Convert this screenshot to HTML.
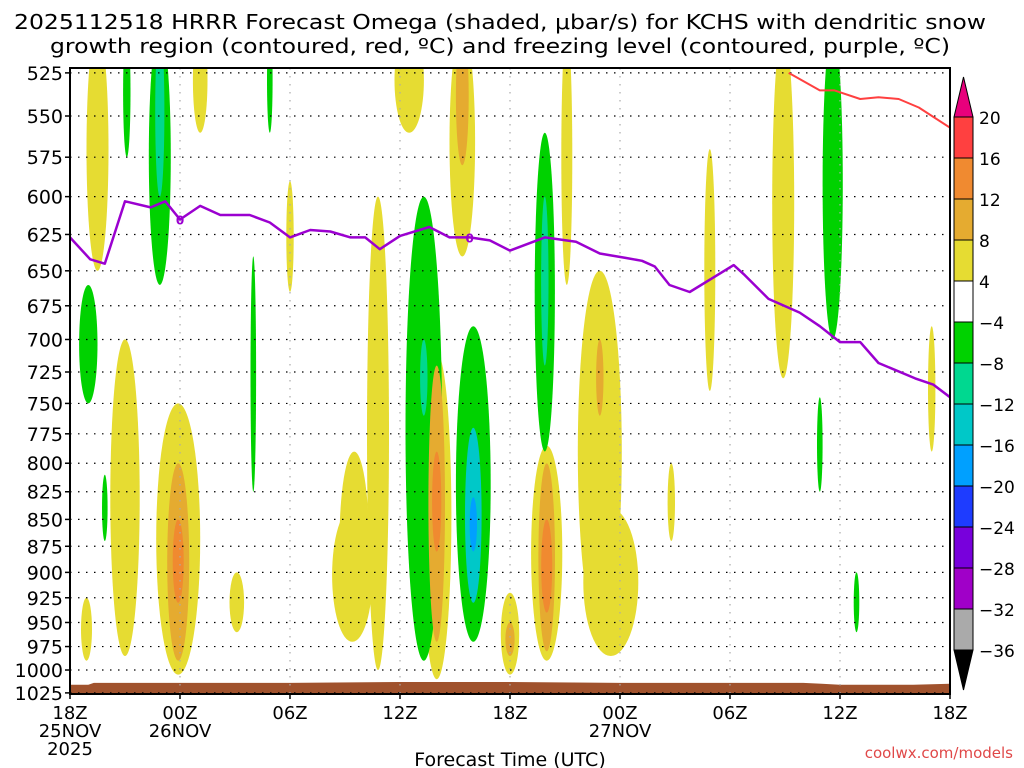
<!DOCTYPE html>
<html><head><meta charset="utf-8"><style>
html,body{margin:0;padding:0;background:#fff;}
svg{display:block;font-family:"DejaVu Sans","Liberation Sans",sans-serif;}
</style></head><body>
<svg id="chart" width="1024" height="768" viewBox="0 0 1024 768">
<defs><clipPath id="plotclip"><rect x="70" y="68" width="880" height="626"/></clipPath></defs>
<g>
<text x="500" y="29" text-anchor="middle" font-size="20" textLength="972" lengthAdjust="spacingAndGlyphs">2025112518 HRRR Forecast Omega (shaded, μbar/s) for KCHS with dendritic snow</text>
<text x="500" y="53" text-anchor="middle" font-size="20" textLength="900" lengthAdjust="spacingAndGlyphs">growth region (contoured, red, ºC) and freezing level (contoured, purple, ºC)</text>
</g>
<g id="blobs" clip-path="url(#plotclip)"></g>
<g id="grid"></g>
<g id="lines" clip-path="url(#plotclip)"></g>
<g id="axes"></g>
<g id="cbar"></g>
<text x="510" y="766" text-anchor="middle" font-size="19">Forecast Time (UTC)</text>
<text x="1013" y="758" text-anchor="end" font-size="15" fill="#e04848">coolwx.com/models</text>
</svg>
<script>
// ---- data ----
const pressureTicks=[525,550,575,600,625,650,675,700,725,750,775,800,825,850,875,900,925,950,975,1000,1025];
const timeTicks=[0,6,12,18,24,30,36,42,48];
const timeLabels1=["18Z","00Z","06Z","12Z","18Z","00Z","06Z","12Z","18Z"];
const timeLabels2=["25NOV","26NOV","","","","27NOV","","",""];
const timeLabels3=["2025","","","","","","","",""];
const cbarLabels=["20","16","12","8","4","\u22124","\u22128","\u221212","\u221216","\u221220","\u221224","\u221228","\u221232","\u221236"];
const cbarColors=["#ff4040","#f08a30","#e5ab30","#e6dc32","#ffffff","#00d200","#00d890","#00c8c8","#00a0ff","#1e3cff","#7800dc","#a000c8","#aaaaaa"];
// blobs: hour center, top pressure, bottom pressure, half-width (hours), level
const blobHour=[1.5,3.0,0.9,5.9,5.9,5.9,9.1,7.1,12,15.5,15.4,16.8,18.5,20,20,20,21.4,21.4,24,24,26,26,26,27.1,28.9,28.9,29.5,32.8,34.9,38.9,47,
 1.0,3.1,4.9,4.9,10,10.9,1.9,19.3,19.3,22,22,22,25.9,25.9,41.6,40.9,42.9];
const blobTop=[500,700,925,750,800,850,900,500,590,790,840,600,500,710,720,790,500,500,920,950,785,800,850,500,650,700,840,800,570,500,690,
 660,500,500,500,640,500,810,600,700,690,770,830,560,600,500,745,900];
const blobBottom=[650,985,990,1005,990,930,960,560,665,960,970,1000,560,1010,970,880,640,580,1005,985,990,980,940,660,960,760,985,870,740,730,790,
 750,575,660,600,825,560,870,990,760,970,930,880,790,720,700,825,960];
const blobWidth=[0.6,0.8,0.3,1.2,0.6,0.3,0.4,0.4,0.2,0.8,1.1,0.6,0.8,0.8,0.45,0.25,0.7,0.35,0.5,0.25,0.85,0.45,0.3,0.3,1.2,0.2,1.5,0.2,0.3,0.6,0.2,
 0.5,0.2,0.6,0.25,0.15,0.15,0.15,1.0,0.2,0.95,0.45,0.2,0.55,0.2,0.55,0.15,0.15];
const blobLevel=[1,1,1,1,2,3,1,1,1,1,1,1,1,1,2,3,1,2,1,2,1,2,3,1,1,2,1,1,1,1,1,
 -1,-1,-1,-2,-1,-1,-1,-1,-2,-1,-3,-4,-1,-2,-1,-1,-1];
// freezing level (purple)
const fzHour=[0,1.1,1.9,3.0,4.4,5.2,6.0,7.1,8.2,9.8,10.9,12.0,13.1,14.2,15.3,16.1,16.9,18.0,19.6,20.7,21.8,22.9,24.0,25.9,27.6,28.9,30.3,31.2,31.9,32.7,33.8,36.2,36.8,38.1,39.8,40.9,42.0,43.1,44.1,46.1,47.1,48];
const fzPres=[627,642,645,603,607,603,615,606,612,612,617,627,622,623,627,627,635,626,620,627,627,629,636,627,630,638,641,643,647,660,665,646,653,670,680,690,702,702,718,730,735,745];
// dendritic growth (red)
const dgHour=[39.2,40.9,41.7,43.1,44.1,45.2,46.3,48];
const dgPres=[525,535,535,540,539,540,545,557];
// terrain (surface pressure)
const sfcHour=[0,1,1.3,6,12,18,24,30,36,40,41,42,44,46,48];
const sfcPres=[1016,1016,1014,1014,1014,1013,1013,1014,1014,1014,1015,1016,1016,1016,1015];

// ---- scales ----
const X0=70,X1=950,Y0=68,Y1=694;
function xs(h){return X0+h*(X1-X0)/48;}
function ys(p){return 116+926.7*Math.log(p/550);}
const NS="http://www.w3.org/2000/svg";
function mk(tag,attrs,parent){const e=document.createElementNS(NS,tag);for(const k in attrs)e.setAttribute(k,attrs[k]);parent.appendChild(e);return e;}
const levelColor={1:"#e6dc32",2:"#e5ab30",3:"#f08a30",4:"#ff4040","-1":"#00d200","-2":"#00d890","-3":"#00c8c8","-4":"#00a0ff","-5":"#1e3cff"};

const blobs=document.getElementById('blobs');
let tp="M"+xs(0)+","+Y1;
for(let i=0;i<sfcHour.length;i++)tp+=" L"+xs(sfcHour[i]).toFixed(1)+","+ys(sfcPres[i]).toFixed(1);
tp+=" L"+xs(48)+","+Y1+" Z";
const order=blobHour.map((_,i)=>i).sort((a,b)=>Math.abs(blobLevel[a])-Math.abs(blobLevel[b]));
order.forEach(i=>{
 const yt=ys(blobTop[i]),yb=ys(blobBottom[i]);
 const e=mk('ellipse',{cx:xs(blobHour[i]).toFixed(1),cy:((yt+yb)/2).toFixed(1),rx:(blobWidth[i]*(X1-X0)/48).toFixed(1),ry:((yb-yt)/2).toFixed(1),fill:levelColor[blobLevel[i]]},blobs);
 
 
});
const terr=mk('path',{d:tp,fill:"#a0522d"},blobs);



const grid=document.getElementById('grid');
pressureTicks.forEach(p=>{
 const l=mk('line',{x1:X0,x2:X1,y1:ys(p),y2:ys(p),stroke:"#000","stroke-width":1.2,"stroke-dasharray":"1.5 6.5"},grid);
 
 
});
timeTicks.forEach(h=>{
 if(h===0||h===48)return;
 const l=mk('line',{x1:xs(h),x2:xs(h),y1:Y0,y2:Y1,stroke:"#aaa","stroke-width":1.2,"stroke-dasharray":"1.5 6.5"},grid);
 
 
});

const lines=document.getElementById('lines');
function pathOf(hs,ps){return hs.map((h,i)=>(i?"L":"M")+xs(h).toFixed(1)+","+ys(ps[i]).toFixed(1)).join(" ");}
const fz=mk('path',{d:pathOf(fzHour,fzPres),fill:"none",stroke:"#9b00d0","stroke-width":2.5,"stroke-linejoin":"round"},lines);


const dg=mk('path',{d:pathOf(dgHour,dgPres),fill:"none",stroke:"#ff4040","stroke-width":2,"stroke-linejoin":"round"},lines);


[[6,615],[21.8,627]].forEach(q=>{
 const t=mk('text',{x:xs(q[0]),y:ys(q[1])+5,"font-size":12,fill:"#9b00d0","text-anchor":"middle","font-weight":"bold"},lines);
 t.textContent="0";
 
 
});

const axes=document.getElementById('axes');
const fr=mk('rect',{x:X0,y:Y0,width:X1-X0,height:Y1-Y0,fill:"none",stroke:"#000","stroke-width":2},axes);


pressureTicks.forEach(p=>{
 const t=mk('text',{x:63,y:ys(p)+7,"font-size":19,"text-anchor":"end"},axes);
 t.textContent=p;
 
 
 mk('line',{x1:X0-5,x2:X0,y1:ys(p),y2:ys(p),stroke:"#000","stroke-width":1.5},axes);
});
timeTicks.forEach((h,i)=>{
 [timeLabels1[i],timeLabels2[i],timeLabels3[i]].forEach((s,j)=>{
  if(!s)return;
  const t=mk('text',{x:xs(h),y:719+j*18,"font-size":18,"text-anchor":"middle"},axes);
  t.textContent=s;
  
  
 });
 mk('line',{x1:xs(h),x2:xs(h),y1:Y1,y2:Y1+5,stroke:"#000","stroke-width":1.5},axes);
});

const cb=document.getElementById('cbar');
const CX=954,CW=19,CT=117,CS=41;
const up=mk('polygon',{points:`${CX},${CT} ${CX+CW},${CT} ${CX+CW/2},${CT-40}`,fill:"#e8007c",stroke:"#000","stroke-width":1},cb);


cbarColors.forEach((c,i)=>{
 const r=mk('rect',{x:CX,y:CT+i*CS,width:CW,height:CS,fill:c,stroke:"#000","stroke-width":1},cb);
 
 
});
const bot=CT+cbarColors.length*CS;
const dn=mk('polygon',{points:`${CX},${bot} ${CX+CW},${bot} ${CX+CW/2},${bot+40}`,fill:"#000",stroke:"#000","stroke-width":1},cb);


cbarLabels.forEach((s,i)=>{
 const t=mk('text',{x:979,y:CT+i*CS+7,"font-size":17},cb);
 t.textContent=s;
 
 
});
</script>
</body></html>
